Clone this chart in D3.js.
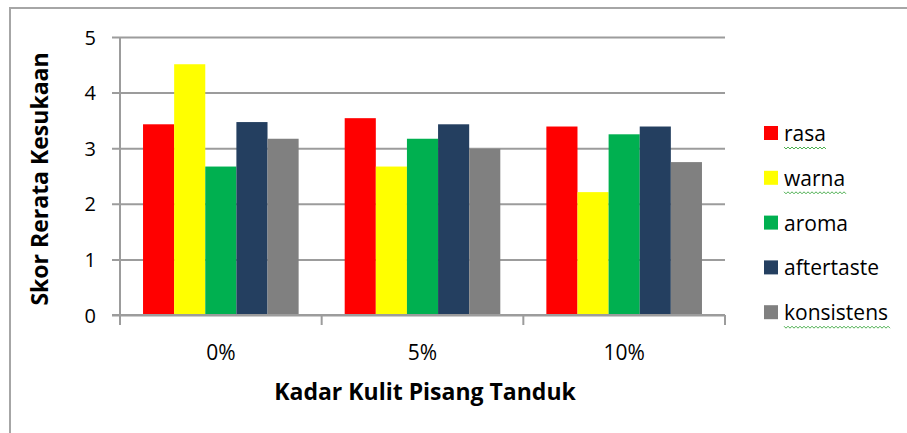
<!DOCTYPE html>
<html>
<head>
<meta charset="utf-8">
<script src="https://cdn.jsdelivr.net/npm/d3@7"></script>
<style>
  body { margin: 0; background: #fff; }
  text { font-family: "Open Sans", sans-serif; fill: #000; }
</style>
</head>
<body>
<div id="chart"></div>
<script>
var categories = ["0%", "5%", "10%"],
    seriesNames = ["rasa", "warna", "aroma", "aftertaste", "konsistens"],
    colors = ["#FF0000", "#FFFF00", "#00B050", "#243F60", "#808080"],
    yTicks = [0, 1, 2, 3, 4, 5];

// one array per series, values per category
var rasa = [3.43, 3.54, 3.39],
    warna = [4.51, 2.67, 2.21],
    aroma = [2.67, 3.17, 3.25],
    aftertaste = [3.47, 3.43, 3.39],
    konsistens = [3.17, 2.99, 2.75];

var values = [rasa, warna, aroma, aftertaste, konsistens];

// words with the spell-check squiggle in the legend
var squiggled = ["rasa", "warna", "konsistens"];

var W = 907, H = 433,
    margin = {left: 120, top: 37, right: 182, bottom: 118},
    width = W - margin.left - margin.right,
    height = H - margin.top - margin.bottom;

var svg = d3.select("#chart").append("svg")
    .attr("width", W)
    .attr("height", H);

// chart border (left + top only visible)
svg.append("path")
    .attr("d", "M10," + H + "V8H" + W)
    .attr("fill", "none")
    .attr("stroke", "#a6a6a6")
    .attr("stroke-width", 2);

var g = svg.append("g")
    .attr("transform", "translate(" + margin.left + "," + margin.top + ")");

var x0 = d3.scaleBand()
    .domain(categories)
    .range([0, width])
    .paddingInner(0)
    .paddingOuter(0);

var x1 = d3.scaleBand()
    .domain(seriesNames)
    .range([0, x0.bandwidth()])
    .paddingOuter(0.74)
    .paddingInner(0);

var y = d3.scaleLinear()
    .domain([0, 5])
    .range([height, 0]);

// gridlines + y ticks
g.append("g")
    .call(d3.axisLeft(y).tickValues(yTicks).tickFormat(d3.format("d"))
      .tickSize(-width).tickSizeOuter(0).tickPadding(24))
    .call(function(a) {
      a.select(".domain").remove();
      a.selectAll(".tick line").attr("stroke", "#9c9c9c").attr("stroke-width", 2).attr("x1", -8);
      a.selectAll(".tick text").style("font-size", "20px").style("font-family", "'Open Sans', sans-serif").attr("dy", "0.35em");
    });

// bars
var groups = g.selectAll("g.cat")
    .data(categories)
    .enter().append("g")
    .attr("class", "cat")
    .attr("transform", function(d) { return "translate(" + x0(d) + ",0)"; });

groups.selectAll("rect")
    .data(function(d, i) { return seriesNames.map(function(s, j) { return {s: s, v: values[j][i], j: j}; }); })
    .enter().append("rect")
    .attr("x", function(d) { return x1(d.s); })
    .attr("width", x1.bandwidth())
    .attr("y", function(d) { return y(d.v); })
    .attr("height", function(d) { return height - y(d.v); })
    .attr("fill", function(d) { return colors[d.j]; });

// y axis line
g.append("line")
    .attr("x1", 0).attr("x2", 0)
    .attr("y1", 0).attr("y2", height + 10)
    .attr("stroke", "#9c9c9c").attr("stroke-width", 2);

// x axis with category dividers
var xAxis = g.append("g")
    .attr("transform", "translate(0," + height + ")");

xAxis.append("line")
    .attr("x1", -8).attr("x2", width)
    .attr("stroke", "#9c9c9c").attr("stroke-width", 2);

xAxis.selectAll("line.div")
    .data(categories.concat(["end"]))
    .enter().append("line")
    .attr("class", "div")
    .attr("x1", function(d, i) { return i * x0.bandwidth(); })
    .attr("x2", function(d, i) { return i * x0.bandwidth(); })
    .attr("y1", 0).attr("y2", 10)
    .attr("stroke", "#9c9c9c").attr("stroke-width", 2);

xAxis.selectAll("text.cat")
    .data(categories)
    .enter().append("text")
    .attr("class", "cat")
    .attr("x", function(d) { return x0(d) + x0.bandwidth() / 2; })
    .attr("y", 45)
    .attr("text-anchor", "middle")
    .style("font-size", "21px")
    .text(function(d) { return d; });

// axis titles
svg.append("text")
    .attr("x", 425)
    .attr("y", 400)
    .attr("text-anchor", "middle")
    .style("font-size", "23px")
    .style("font-weight", "bold")
    .text("Kadar Kulit Pisang Tanduk");

svg.append("text")
    .attr("transform", "translate(48," + 179 + ") rotate(-90)")
    .attr("text-anchor", "middle")
    .style("font-size", "23px")
    .style("font-weight", "bold")
    .text("Skor Rerata Kesukaan");

// legend
var legend = svg.append("g")
    .selectAll("g")
    .data(seriesNames)
    .enter().append("g")
    .attr("transform", function(d, i) { return "translate(764," + (133 + i * 44.8) + ")"; });

legend.append("rect")
    .attr("x", 0).attr("y", -7)
    .attr("width", 14).attr("height", 14)
    .attr("fill", function(d, i) { return colors[i]; });

legend.append("text")
    .attr("x", 20)
    .attr("y", 8)
    .style("font-size", "21px")
    .text(function(d) { return d; });

// green wavy underline like in the original screenshot
legend.filter(function(d) { return squiggled.indexOf(d) >= 0; })
  .each(function() {
    var t = d3.select(this).select("text"),
        len = t.node().getComputedTextLength(),
        pts = "M20,14";
    for (var k = 0, xx = 20; xx < 20 + len; k++) {
      xx += 2;
      pts += "L" + xx + "," + (k % 2 ? 14 : 16);
    }
    d3.select(this).append("path")
      .attr("d", pts)
      .attr("fill", "none")
      .attr("stroke", "#4caf50")
      .attr("stroke-width", 1);
  });
</script>
</body>
</html>
